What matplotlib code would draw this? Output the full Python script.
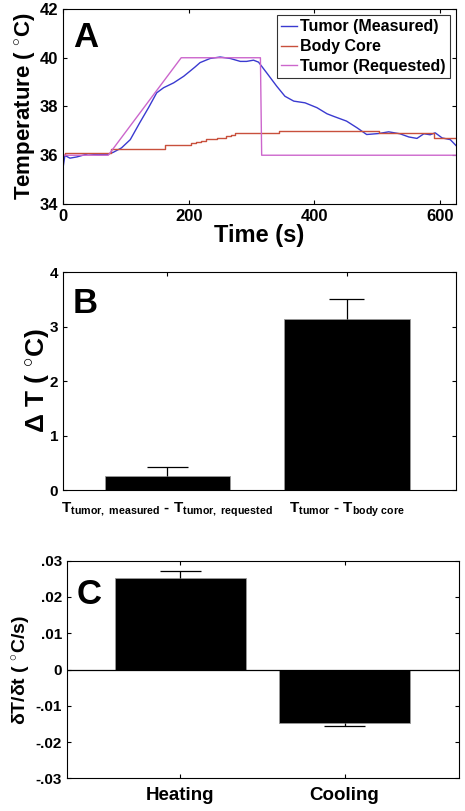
import matplotlib
matplotlib.use('Agg')
import matplotlib.pyplot as plt

plt.rcParams['font.family'] = 'Liberation Sans'
plt.rcParams['font.weight'] = 'bold'
plt.rcParams['mathtext.fontset'] = 'custom'
plt.rcParams['mathtext.rm'] = 'Liberation Sans:bold'
plt.rcParams['mathtext.bf'] = 'Liberation Sans:bold'
plt.rcParams['mathtext.it'] = 'Liberation Sans:bold'

# panel A: temperature traces
tumor_t = [0, 3, 11, 22, 40, 56, 70, 80, 93, 107, 122, 136, 149, 160, 176, 192,
           202, 210, 218, 234, 250, 266, 282, 292, 303, 311, 324, 340, 353, 367,
           385, 404, 420, 430, 451, 468, 483, 502, 518, 536, 550, 563, 574, 584,
           592, 603, 616, 625]
tumor_T = [35.48, 35.99, 35.88, 35.93, 36.06, 36.02, 36.03, 36.12, 36.30, 36.64,
           37.33, 37.95, 38.56, 38.77, 38.97, 39.24, 39.45, 39.62, 39.80, 39.97,
           40.03, 39.97, 39.85, 39.85, 39.90, 39.82, 39.38, 38.83, 38.42, 38.22,
           38.15, 37.95, 37.70, 37.60, 37.40, 37.12, 36.85, 36.89, 36.96, 36.88,
           36.75, 36.69, 36.88, 36.84, 36.92, 36.71, 36.64, 36.40]
core_t = [0, 3, 77, 162, 204, 212, 220, 228, 245, 260, 268, 274, 343, 503, 590, 625]
core_T = [36.0, 36.1, 36.27, 36.4, 36.5, 36.55, 36.6, 36.67, 36.72, 36.78, 36.85,
          36.9, 37.0, 36.93, 36.72, 36.72]
req_t = [0, 72, 188, 314, 316, 625]
req_T = [36, 36, 40, 40, 36, 36]

# panel B
b_labels = [r'T$_{\mathbf{tumor,\ measured}}$ - T$_{\mathbf{tumor,\ requested}}$',
            r'T$_{\mathbf{tumor}}$ - T$_{\mathbf{body\ core}}$']
b_vals = [0.26, 3.14]
b_err = [0.16, 0.36]

# panel C
c_labels = ['Heating', 'Cooling']
c_vals = [0.0253, -0.01475]
c_err = [0.0019, 0.00075]

fig = plt.figure(figsize=(4.65, 8.11), dpi=100)


def style(ax, size):
    ax.tick_params(direction='in', top=True, right=True, labelsize=size,
                   length=3, width=0.8)
    for s in ax.spines.values():
        s.set_linewidth(0.8)


def err_up(ax, x, y, e, half):
    # one-sided error bar, cap only at the far end
    end = y + e if y >= 0 else y - e
    ax.vlines(x, y, end, color='black', lw=0.9)
    ax.hlines(end, x - half, x + half, color='black', lw=0.9)


# A
ax = fig.add_axes([0.1355, 0.7485, 0.845, 0.2404])
ax.plot(tumor_t, tumor_T, color='#3a3ad0', lw=1.0, label='Tumor (Measured)')
ax.step(core_t, core_T, where='post', color='#c8503c', lw=1.0, label='Body Core')
ax.plot(req_t, req_T, color='#cc66cc', lw=1.0, label='Tumor (Requested)')
ax.set_xlim(0, 625)
ax.set_ylim(34, 42)
ax.set_xticks([0, 200, 400, 600])
ax.set_yticks([34, 36, 38, 40, 42])
style(ax, 12)
ax.set_xlabel('Time (s)', fontsize=17, fontweight='bold', labelpad=0)
ax.set_ylabel(r'Temperature ( $^{\circ}$C)', fontsize=16, fontweight='bold', labelpad=2)
leg = ax.legend(loc='upper right', fontsize=11.5, frameon=True, fancybox=False,
                handlelength=1.0, handletextpad=0.2, borderpad=0.25,
                labelspacing=0.3, borderaxespad=0.4)
leg.get_frame().set_edgecolor('black')
leg.get_frame().set_linewidth(0.8)
ax.text(0.025, 0.94, 'A', transform=ax.transAxes, fontsize=25, fontweight='bold',
        va='top', ha='left')

# B
ax = fig.add_axes([0.1355, 0.3958, 0.845, 0.2685])
bx = [1, 2]
ax.bar(bx, b_vals, width=0.7, color='black', edgecolor='0.6', linewidth=0.6)
err_up(ax, bx[0], b_vals[0], b_err[0], 0.114)
err_up(ax, bx[1], b_vals[1], b_err[1], 0.098)
ax.set_xlim(0.418, 2.608)
ax.set_ylim(0, 4)
ax.set_yticks([0, 1, 2, 3, 4])
ax.set_xticks(bx)
style(ax, 11)
ax.set_xticklabels(b_labels, fontsize=11, fontweight='bold')
ax.tick_params(axis='x', pad=8)
ax.set_ylabel(r'$\Delta$ T ( $^{\circ}$C)', fontsize=19, fontweight='bold', labelpad=-1)
ax.text(0.025, 0.93, 'B', transform=ax.transAxes, fontsize=25, fontweight='bold',
        va='top', ha='left')

# C
ax = fig.add_axes([0.1434, 0.0403, 0.8437, 0.2683])
cx = [1, 2]
ax.bar(cx, c_vals, width=0.8, color='black', edgecolor='0.6', linewidth=0.6)
err_up(ax, cx[0], c_vals[0], c_err[0], 0.125)
err_up(ax, cx[1], c_vals[1], c_err[1], 0.125)
ax.axhline(0, color='black', lw=0.9)
ax.set_xlim(0.307, 2.697)
ax.set_ylim(-0.03, 0.03)
yt = [-0.03, -0.02, -0.01, 0, 0.01, 0.02, 0.03]
ax.set_yticks(yt)
ax.set_yticklabels(['-.03', '-.02', '-.01', '0', '.01', '.02', '.03'])
ax.set_xticks(cx)
style(ax, 11)
ax.set_xticklabels(c_labels, fontsize=13.5, fontweight='bold')
ax.tick_params(axis='x', pad=6)
ax.set_ylabel(r'$\delta$T/$\delta$t ( $^{\circ}$C/s)', fontsize=14, fontweight='bold', labelpad=2)
ax.text(0.025, 0.92, 'C', transform=ax.transAxes, fontsize=25, fontweight='bold',
        va='top', ha='left')

fig.savefig('out.png', dpi=100)
